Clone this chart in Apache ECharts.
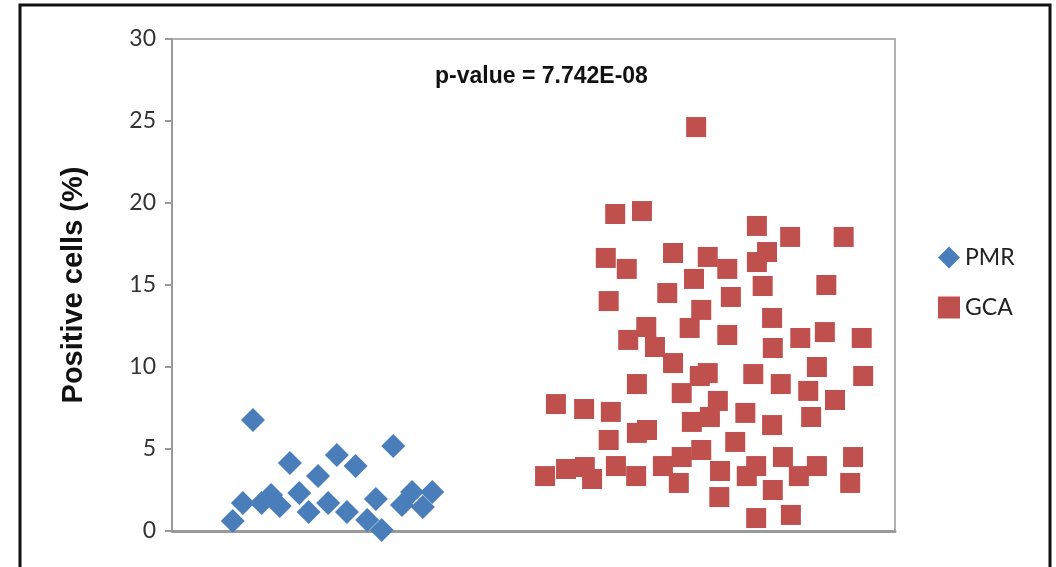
<!DOCTYPE html>
<html lang="en">

<head>
  <meta charset="UTF-8">
  <title>Positive cells PMR vs GCA</title>
  <script src="https://cdn.jsdelivr.net/npm/echarts@6/dist/echarts.min.js"></script>
  <style>
    html, body { margin: 0; padding: 0; background: #fff; }
    #chart { width: 1056px; height: 567px; }
  </style>
</head>

<body>
  <div id="chart"></div>
  <script>
    // y ticks
    var yTicks = [0, 5, 10, 15, 20, 25, 30];

    // PMR (x = jitter position, y = % positive cells)
    var pmrX = [8.4, 9.8, 11.2, 12.4, 13.7, 14.9, 16.3, 17.6, 18.9, 20.2, 21.6,
      22.8, 24.2, 25.4, 27.0, 28.2, 29.0, 30.6, 31.8, 33.2, 34.7, 36.0];
    var pmrY = [0.61, 1.71, 6.77, 1.71, 2.2, 1.52, 4.15, 2.32, 1.16, 3.35, 1.71,
      4.63, 1.16, 3.96, 0.67, 1.95, 0.06, 5.18, 1.59, 2.38, 1.46, 2.38];

    // GCA
    var gcaX = [51.6, 54.5, 57.1, 58.1, 61.4, 64.2, 53.1, 57.0, 60.7, 60.4, 64.3, 65.7,
      64.3, 60.4, 60.0, 62.9, 61.3, 65.0, 63.1, 65.6, 66.8, 69.3, 68.5, 69.3,
      72.5, 72.2, 74.1, 76.8, 73.2, 71.6, 77.3, 76.8, 73.0, 74.1, 70.5, 75.5,
      74.4, 71.9, 79.3, 77.9, 67.9, 70.5, 73.2, 75.8, 70.1, 75.7, 79.5, 80.8,
      80.8, 80.9, 80.9, 82.3, 81.7, 83.0, 83.1, 80.4, 83.0, 85.5, 86.9, 84.2,
      88.0, 89.2, 88.4, 91.7, 90.5, 90.3, 92.9, 95.4, 95.6, 84.5, 86.7, 89.2,
      94.2, 93.8, 83.1, 85.6];
    var gcaY = [3.35, 3.78, 3.9, 3.17, 3.96, 3.35, 7.74, 7.44, 7.26, 5.55, 5.98, 6.16,
      8.96, 14.02, 16.65, 15.98, 19.33, 19.51, 11.65, 12.44, 11.22, 10.24, 14.51, 16.95,
      24.63, 15.37, 16.71, 15.98, 13.48, 12.38, 14.27, 11.95, 9.45, 9.63, 8.41, 7.93,
      6.95, 6.65, 7.2, 5.43, 3.96, 4.51, 4.94, 3.66, 2.93, 2.07, 3.35, 3.96,
      0.79, 18.6, 16.4, 17.01, 14.94, 12.99, 11.16, 9.57, 6.46, 17.93, 11.77, 8.96,
      8.54, 10.0, 6.95, 7.99, 15.0, 12.13, 17.93, 11.77, 9.45, 4.51, 3.35, 3.96,
      4.51, 2.93, 2.5, 0.98];

    function pairs(xs, ys) {
      var out = [];
      for (var i = 0; i < xs.length; i++) {
        out.push([xs[i], ys[i]]);
      }
      return out;
    }

    var chart = echarts.init(document.getElementById('chart'));

    var option = {
      backgroundColor: '#fff',
      animation: false,
      title: {
        text: 'p-value = 7.742E-08',
        left: 430,
        top: 60,
        textStyle: {
          fontFamily: 'Liberation Sans, Arial, sans-serif',
          fontWeight: 'bold',
          fontSize: 23,
          color: '#111'
        }
      },
      legend: {
        orient: 'vertical',
        left: 933,
        top: 241,
        itemWidth: 22,
        itemHeight: 22,
        itemGap: 27,
        textStyle: {
          fontFamily: 'Lato, sans-serif',
          fontSize: 23,
          color: '#222'
        },
        data: [
          { name: 'PMR', icon: 'diamond' },
          { name: 'GCA', icon: 'rect' }
        ]
      },
      graphic: [{
        type: 'rect',
        shape: { x: 20, y: 5, width: 1030, height: 620 },
        style: { fill: 'none', stroke: '#111', lineWidth: 3 },
        silent: true
      }],
      grid: {
        left: 172,
        right: 161,
        top: 39,
        bottom: 36,
        show: true,
        borderColor: '#b0b0b0',
        borderWidth: 2
      },
      xAxis: {
        type: 'value',
        min: 0,
        max: 100,
        axisLine: { show: true, lineStyle: { color: '#9a9a9a', width: 3 } },
        axisTick: { show: false },
        axisLabel: { show: false },
        splitLine: { show: false }
      },
      yAxis: {
        type: 'value',
        min: yTicks[0],
        max: yTicks[yTicks.length - 1],
        interval: 5,
        name: 'Positive cells (%)',
        nameLocation: 'middle',
        nameGap: 84,
        nameTextStyle: {
          fontFamily: 'Liberation Sans, Arial, sans-serif',
          fontWeight: 'bold',
          fontSize: 29,
          color: '#111'
        },
        axisLine: { show: true, lineStyle: { color: '#9a9a9a', width: 2 } },
        axisTick: { show: true, length: 7, lineStyle: { color: '#9a9a9a', width: 2 } },
        axisLabel: {
          margin: 16,
          fontFamily: 'Lato, sans-serif',
          fontSize: 23,
          color: '#333'
        },
        splitLine: { show: false }
      },
      series: [
        {
          name: 'PMR',
          type: 'scatter',
          symbol: 'diamond',
          symbolSize: 24,
          itemStyle: { color: '#4a7ebb', opacity: 1 },
          data: pairs(pmrX, pmrY)
        },
        {
          name: 'GCA',
          type: 'scatter',
          symbol: 'rect',
          symbolSize: 20,
          itemStyle: { color: '#c0504d', opacity: 1 },
          data: pairs(gcaX, gcaY)
        }
      ]
    };
    chart.setOption(option);
  </script>
</body>

</html>
